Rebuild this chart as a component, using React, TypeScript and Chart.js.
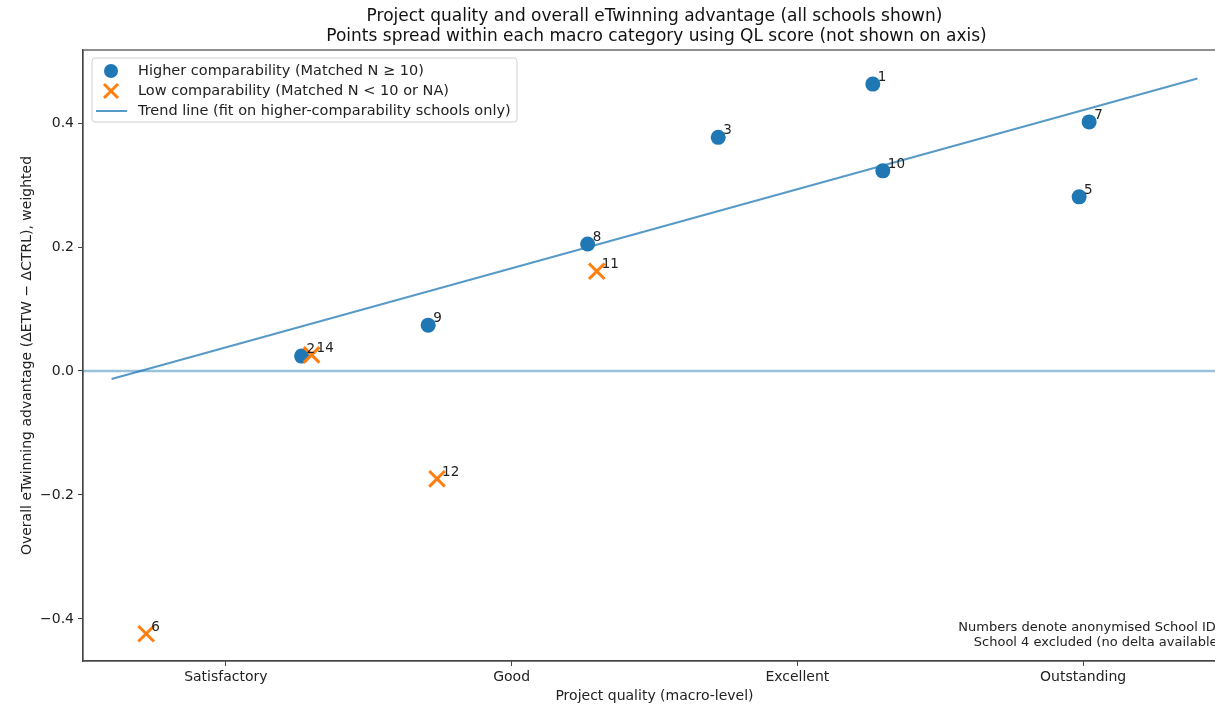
import React, { useEffect, useRef } from 'react';
import { Chart, registerables } from 'chart.js';

Chart.register(...registerables);

const categories = ['Satisfactory', 'Good', 'Excellent', 'Outstanding'];
const categoryPositions = [0, 1, 2, 3];

const higherIds = ['1', '3', '7', '10', '5', '8', '9', '2'];
const higherX = [2.264, 1.723, 3.021, 2.299, 2.986, 1.266, 0.708, 0.265];
const higherY = [0.463, 0.377, 0.402, 0.323, 0.281, 0.205, 0.074, 0.024];

const lowIds = ['14', '11', '12', '6'];
const lowX = [0.3, 1.298, 0.739, -0.279];
const lowY = [0.026, 0.161, -0.174, -0.424];

const trendX = [-0.4, 3.4];
const trendY = [-0.013, 0.472];

const zeroLineX = [-0.5, 3.5];
const zeroLineY = [0, 0];

const yTicks = [-0.4, -0.2, 0.0, 0.2, 0.4];

const titleLines = [
  'Project quality and overall eTwinning advantage (all schools shown)',
  'Points spread within each macro category using QL score (not shown on axis)',
];
const xTitle = 'Project quality (macro-level)';
const yTitle = 'Overall eTwinning advantage (\u0394ETW \u2212 \u0394CTRL), weighted';
const legendLabels = [
  'Higher comparability (Matched N \u2265 10)',
  'Low comparability (Matched N < 10 or NA)',
  'Trend line (fit on higher-comparability schools only)',
];
const noteLines = ['Numbers denote anonymised School IDs', 'School 4 excluded (no delta available)'];

const BLUE = '#1f77b4';
const ORANGE = '#ff7f0e';
const TREND = 'rgba(31,119,180,0.75)';
const ZERO = 'rgba(31,119,180,0.45)';
const FONT = '"DejaVu Sans", sans-serif';
const TEXT = '#222';

const pts = (xs: number[], ys: number[]) => xs.map((x, i) => ({ x, y: ys[i] }));

const decorPlugin = {
  id: 'decor',
  afterDatasetsDraw(chart: any) {
    const ctx = chart.ctx as CanvasRenderingContext2D;
    const { left, right, top, bottom } = chart.chartArea;
    ctx.save();
    // point labels
    ctx.font = `13.5px ${FONT}`;
    ctx.fillStyle = TEXT;
    ctx.textAlign = 'left';
    ctx.textBaseline = 'alphabetic';
    const labelSet = (dsIndex: number, ids: string[]) => {
      const meta = chart.getDatasetMeta(dsIndex);
      meta.data.forEach((el: any, i: number) => {
        ctx.fillText(ids[i], el.x + 5, el.y - 3);
      });
    };
    labelSet(2, higherIds);
    labelSet(3, lowIds);

    // frame (top/right spines)
    ctx.strokeStyle = '#444';
    ctx.lineWidth = 1.2;
    ctx.strokeRect(left, top, right - left, bottom - top);

    // titles
    const cx = (left + right) / 2;
    ctx.textAlign = 'center';
    ctx.textBaseline = 'middle';
    ctx.fillStyle = '#111';
    ctx.font = `17px ${FONT}`;
    ctx.fillText(titleLines[0], cx, 17);
    ctx.fillText(titleLines[1], cx + 2, 37);

    ctx.fillStyle = TEXT;
    ctx.font = `14px ${FONT}`;
    ctx.fillText(xTitle, cx, 696);
    ctx.save();
    ctx.translate(27, (top + bottom) / 2);
    ctx.rotate(-Math.PI / 2);
    ctx.fillText(yTitle, 0, 0);
    ctx.restore();

    // note
    ctx.font = `13px ${FONT}`;
    ctx.textAlign = 'right';
    const nx = left + 0.99 * (right - left) + 8;
    ctx.fillText(noteLines[0], nx, 628);
    ctx.fillText(noteLines[1], nx, 643);

    // legend
    const bx = 92, by = 58, bw = 425, bh = 64;
    ctx.fillStyle = 'rgba(255,255,255,0.85)';
    ctx.strokeStyle = '#d0d0d0';
    ctx.lineWidth = 1;
    ctx.beginPath();
    (ctx as any).roundRect(bx, by, bw, bh, 3);
    ctx.fill();
    ctx.stroke();
    const rows = [71, 91, 111];
    ctx.fillStyle = BLUE;
    ctx.beginPath();
    ctx.arc(111, rows[0], 7, 0, Math.PI * 2);
    ctx.fill();
    ctx.strokeStyle = ORANGE;
    ctx.lineWidth = 3;
    ctx.beginPath();
    ctx.moveTo(104, rows[1] - 7);
    ctx.lineTo(118, rows[1] + 7);
    ctx.moveTo(118, rows[1] - 7);
    ctx.lineTo(104, rows[1] + 7);
    ctx.stroke();
    ctx.strokeStyle = TREND;
    ctx.lineWidth = 2;
    ctx.beginPath();
    ctx.moveTo(96, rows[2]);
    ctx.lineTo(127, rows[2]);
    ctx.stroke();
    ctx.fillStyle = TEXT;
    ctx.font = `14.5px ${FONT}`;
    ctx.textAlign = 'left';
    ctx.textBaseline = 'middle';
    legendLabels.forEach((t, i) => ctx.fillText(t, 138, rows[i]));
    ctx.restore();
  },
};

export default function App() {
  const ref = useRef<HTMLCanvasElement | null>(null);
  useEffect(() => {
    if (!ref.current) return;
    const chart = new Chart(ref.current, {
      type: 'scatter',
      data: {
        datasets: [
          {
            type: 'line',
            data: pts(zeroLineX, zeroLineY),
            borderColor: ZERO,
            borderWidth: 2.5,
            pointRadius: 0,
            order: 4,
          } as any,
          {
            type: 'line',
            data: pts(trendX, trendY),
            borderColor: TREND,
            borderWidth: 2,
            pointRadius: 0,
            order: 3,
          } as any,
          {
            data: pts(higherX, higherY),
            backgroundColor: BLUE,
            borderColor: BLUE,
            borderWidth: 0,
            pointRadius: 7.5,
            order: 2,
          },
          {
            data: pts(lowX, lowY),
            pointStyle: 'crossRot',
            borderColor: ORANGE,
            backgroundColor: ORANGE,
            borderWidth: 3,
            pointRadius: 11,
            order: 1,
          },
        ],
      },
      options: {
        responsive: false,
        animation: false,
        layout: { padding: { top: 50, left: 0, right: 10, bottom: 0 } },
        plugins: { legend: { display: false }, tooltip: { enabled: false }, title: { display: false } },
        scales: {
          x: {
            type: 'linear',
            min: -0.5,
            max: 3.5,
            afterBuildTicks: (s: any) => {
              s.ticks = categoryPositions.map((v) => ({ value: v }));
            },
            afterFit: (s: any) => {
              s.height = 43;
            },
            ticks: {
              callback: (v: any) => categories[categoryPositions.indexOf(Number(v))] ?? '',
              font: { family: FONT, size: 14 },
              color: TEXT,
              padding: 3,
              maxRotation: 0,
              autoSkip: false,
            },
            grid: { drawOnChartArea: false, drawTicks: true, tickLength: 5, color: '#444' },
            border: { display: true, color: '#444', width: 1.2 },
          },
          y: {
            type: 'linear',
            min: -0.468,
            max: 0.518,
            afterBuildTicks: (s: any) => {
              s.ticks = yTicks.map((v) => ({ value: v }));
            },
            afterFit: (s: any) => {
              s.width = 83;
            },
            ticks: {
              callback: (v: any) => Number(v).toFixed(1).replace('-', '\u2212'),
              font: { family: FONT, size: 14 },
              color: TEXT,
              padding: 4,
            },
            grid: { drawOnChartArea: false, drawTicks: true, tickLength: 5, color: '#444' },
            border: { display: true, color: '#444', width: 1.2 },
          },
        },
      },
      plugins: [decorPlugin],
    } as any);
    return () => chart.destroy();
  }, []);
  return (
    <div style={{ position: 'fixed', left: 0, top: 0, width: 1215, height: 704, overflow: 'hidden', background: '#fff' }}>
      <canvas ref={ref} width={1240} height={704} style={{ width: 1240, height: 704, display: 'block' }} />
    </div>
  );
}
